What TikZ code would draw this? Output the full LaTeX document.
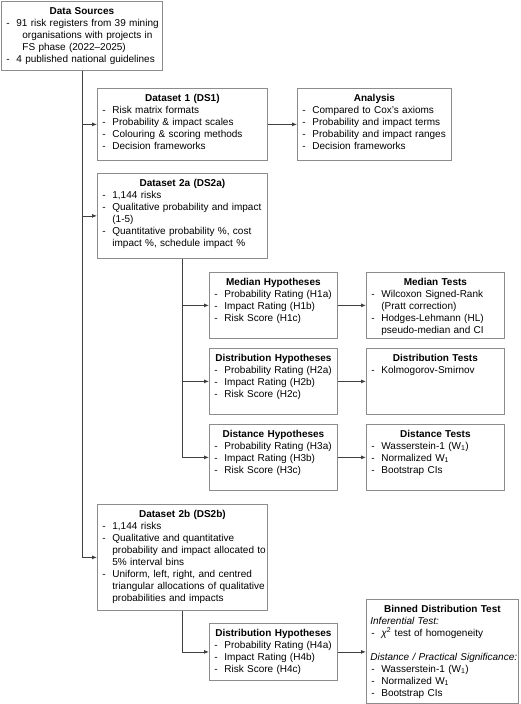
\documentclass[tikz,border=0pt]{standalone}
\usepackage{fontspec}
\setmainfont{Liberation Sans}
\usetikzlibrary{arrows.meta}

% Centred bold heading of a box
\newcommand{\ttl}[1]{{\centering\bfseries #1\par}}
% One dashed item with a hanging indent
\newcommand{\itm}[2][12pt]{\par\noindent\hangindent=#1\hangafter=1\makebox[12pt][l]{\hspace{2pt}-}#2\par}

\tikzset{
  box/.style 2 args={draw=black!45, line width=0.8pt, anchor=north west,
    inner xsep=3pt, inner ysep=4pt, text width=#1, text height=9pt, text depth=#2,
    align=left, font=\fontsize{10}{12}\selectfont},
  link/.style={draw=black!75, line width=0.8pt, -{Latex[length=5pt,width=4pt]}}
}

\begin{document}
\begin{tikzpicture}[x=1pt,y=-1pt]
\useasboundingbox (0,0) rectangle (520,704);
% Sources at the top left
\node[box={155pt}{52pt}] (src) at (1,1) {\ttl{Data Sources}
  \itm[18pt]{91 risk registers from 39 mining\newline organisations with projects in\newline FS phase (2022--2025)}
  \itm{4 published national guidelines}};
% First dataset and its analysis
\node[box={164pt}{55pt}] (ds1) at (97,88) {\ttl{Dataset 1 (DS1)}
  \itm{Risk matrix formats}
  \itm{Probability \& impact scales}
  \itm{Colouring \& scoring methods}
  \itm{Decision frameworks}};
\node[box={148pt}{55pt}] (ana) at (297,88) {\ttl{Analysis}
  \itm{Compared to Cox's axioms}
  \itm{Probability and impact terms}
  \itm{Probability and impact ranges}
  \itm{Decision frameworks}};
% Dataset 2a
\node[box={164pt}{68pt}] (dsa) at (97,173) {\ttl{Dataset 2a (DS2a)}
  \itm{1,144 risks}
  \itm{Qualitative probability and impact\newline (1-5)}
  \itm{Quantitative probability \%, cost\newline impact \%, schedule impact \%}};
% Hypotheses of dataset 2a and their tests
\node[box={122pt}{49pt}] (medh) at (209,272) {\ttl{Median Hypotheses}
  \itm{Probability Rating (H1a)}
  \itm{Impact Rating (H1b)}
  \itm{Risk Score (H1c)}};
\node[box={132pt}{49pt}] (medt) at (366,272) {\ttl{Median Tests}
  \itm{Wilcoxon Signed-Rank\newline (Pratt correction)}
  \itm{Hodges-Lehmann (HL)\newline pseudo-median and CI}};
\node[box={122pt}{49pt}] (disth) at (209,348) {\ttl{Distribution Hypotheses}
  \itm{Probability Rating (H2a)}
  \itm{Impact Rating (H2b)}
  \itm{Risk Score (H2c)}};
\node[box={132pt}{49pt}] (distt) at (366,348) {\ttl{Distribution Tests}
  \itm{Kolmogorov-Smirnov}};
\node[box={122pt}{49pt}] (dsth) at (209,424) {\ttl{Distance Hypotheses}
  \itm{Probability Rating (H3a)}
  \itm{Impact Rating (H3b)}
  \itm{Risk Score (H3c)}};
\node[box={132pt}{49pt}] (dstt) at (366,424) {\ttl{Distance Tests}
  \itm{Wasserstein-1 (W\textsubscript{1})}
  \itm{Normalized W\textsubscript{1}}
  \itm{Bootstrap CIs}};
% Dataset 2b
\node[box={164pt}{89pt}] (dsb) at (97,504) {\ttl{Dataset 2b (DS2b)}
  \itm{1,144 risks}
  \itm{Qualitative and quantitative\newline \mbox{probability and impact allocated to}\newline 5\% interval bins}
  \itm{Uniform, left, right, and centred\newline \mbox{triangular allocations of qualitative}\newline probabilities and impacts}};
% Hypotheses of dataset 2b and the binned test
\node[box={122pt}{40pt}] (binh) at (209,623) {\ttl{Distribution Hypotheses}
  \itm{Probability Rating (H4a)}
  \itm{Impact Rating (H4b)}
  \itm{Risk Score (H4c)}};
\node[box={146pt}{87pt}] (bint) at (366,599) {\ttl{Binned Distribution Test}
  \noindent\hspace{1pt}\textit{Inferential Test:}
  \itm{\textit{χ}\textsuperscript{2} test of homogeneity}
  \vspace{12pt}
  \noindent\hspace{1pt}\mbox{\textit{Distance / Practical Significance:}}
  \itm{Wasserstein-1 (W\textsubscript{1})}
  \itm{Normalized W\textsubscript{1}}
  \itm{Bootstrap CIs}};
% Trunk from the sources to the datasets
\draw[link] (src.south) |- (ds1.west);
\draw[link] (src.south) |- (dsa.west);
\draw[link] (src.south) |- (dsb.west);
\draw[link] (ds1.east) -- (ds1.east -| ana.west);
% Branch of dataset 2a
\draw[link] (dsa.south) |- (medh.west);
\draw[link] (dsa.south) |- (disth.west);
\draw[link] (dsa.south) |- (dsth.west);
\draw[link] (medh.east) -- (medh.east -| medt.west);
\draw[link] (disth.east) -- (disth.east -| distt.west);
\draw[link] (dsth.east) -- (dsth.east -| dstt.west);
% Branch of dataset 2b
\draw[link] (dsb.south) |- (binh.west);
\draw[link] (binh.east) -- (binh.east -| bint.west);
\end{tikzpicture}
\end{document}
